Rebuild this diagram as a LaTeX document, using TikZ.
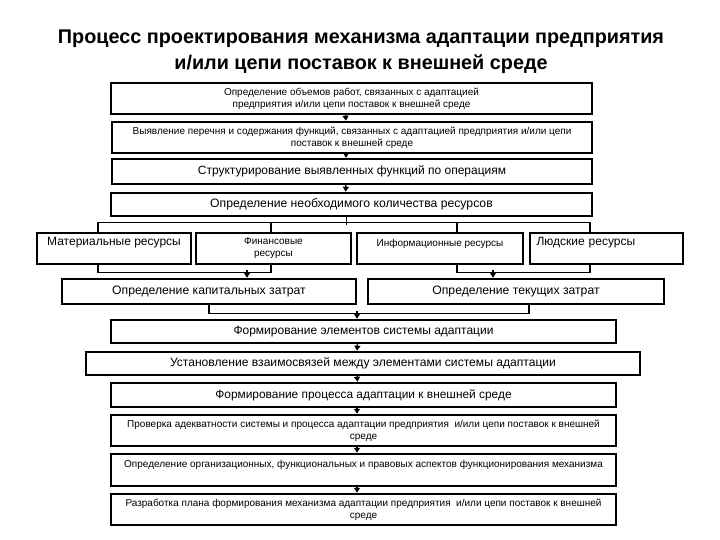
\documentclass[tikz,border=0pt]{standalone}
\usepackage{fontspec}
\setmainfont{Liberation Sans}
\usepackage{tikz}
\usetikzlibrary{arrows.meta, positioning, calc}

\tikzset{
  stage/.style={draw, rectangle, line width=2.5pt, inner sep=1pt, align=center},
  link/.style={line width=1.5pt},
  flow/.style={link, -{Triangle[length=5pt,width=6pt]}},
}
\newcommand{\fs}[1]{\fontsize{#1}{1.2\dimexpr #1pt\relax}\selectfont}

\begin{document}
\begin{tikzpicture}[x=1pt, y=-1pt]
      \useasboundingbox (0,0) rectangle (720,540);
      \node[font=\fontsize{19.8}{26}\selectfont\bfseries, align=center] (title) at (361,52) {
        Процесс проектирования механизма адаптации предприятия\\
        и/или цепи поставок к внешней среде
      };
      % upper chain
      \node[stage, minimum width=481, minimum height=31, font=\fs{10}] (b1) at (351.5,98.5) {
        Определение объемов работ, связанных с адаптацией\\
        предприятия и/или цепи поставок к внешней среде
      };
      \node[stage, minimum width=480, minimum height=31, font=\fs{10}] (b2) at (352,137.5) {
        Выявление перечня и содержания функций, связанных с адаптацией предприятия и/или цепи\\
        поставок к внешней среде
      };
      \node[stage, minimum width=480, minimum height=25, font=\fs{12}] (b3) at (352,171.5) {Структурирование выявленных функций по операциям};
      \node[stage, minimum width=481, minimum height=23, font=\fs{12.2}] (b4) at (351.5,204.5) {Определение необходимого количества ресурсов};
      % resources
      \node[stage, minimum width=154, minimum height=31, font=\fs{12}] (mat) at (114,248.5) {Материальные ресурсы\\~};
      \node[stage, minimum width=155, minimum height=31, font=\fs{10}] (fin) at (273.5,248.5) {Финансовые\\ресурсы};
      \node[stage, minimum width=166, minimum height=31, font=\fs{10}] (inf) at (440,248.5) {Информационные ресурсы\\~};
      \node[stage, minimum width=153, minimum height=31, font=\fs{12}, align=left, text width=140] (lud) at (606.5,248.5) {Людские ресурсы\\~};
      \node[stage, minimum width=294, minimum height=25, font=\fs{12.2}] (cap) at (209,291.5) {Определение капитальных затрат};
      \node[stage, minimum width=296, minimum height=25, font=\fs{12.2}] (cur) at (516,291.5) {Определение текущих затрат};
      % lower chain
      \node[stage, minimum width=505, minimum height=23, font=\fs{12}] (e1) at (363.5,331.5) {Формирование элементов системы адаптации};
      \node[stage, minimum width=554, minimum height=23, font=\fs{12.1}] (e2) at (363,363.5) {Установление взаимосвязей между элементами системы адаптации};
      \node[stage, minimum width=505, minimum height=24, font=\fs{11.9}] (e3) at (363.5,395) {Формирование процесса адаптации к внешней среде};
      \node[stage, minimum width=505, minimum height=31, font=\fs{10}] (e4) at (363.5,430.5) {
        Проверка адекватности системы и процесса адаптации предприятия \ и/или цепи поставок к внешней\\
        среде
      };
      \node[stage, minimum width=505, minimum height=32, font=\fs{10}] (e5) at (363.5,470) {
        Определение организационных, функциональных и правовых аспектов функционирования механизма\\~
      };
      \node[stage, minimum width=505, minimum height=31, font=\fs{10}] (e6) at (363.5,509.5) {
        Разработка плана формирования механизма адаптации предприятия \ и/или цепи поставок к внешней\\
        среде
      };
      % connectors
      \draw[flow] ([xshift=-6pt]b1.south) -- ([xshift=-6pt]b2.north);
      \draw[flow] ([xshift=-6pt]b2.south) -- ([xshift=-6pt]b3.north);
      \draw[flow] ([xshift=-6pt]b3.south) -- ([xshift=-6pt]b4.north);
      \draw[link] ([xshift=-5pt]b4.south) -- ++(0,8);
      \draw[link] ([xshift=-16pt]mat.north) -- ++(0,-9) -| ([xshift=-16.5pt]lud.north);
      \draw[link] ([xshift=-2.5pt]fin.north) -- ++(0,-9);
      \draw[link] ([xshift=17pt]inf.north) -- ++(0,-9);
      \draw[link] ([xshift=-16pt]mat.south) -- ++(0,7) -| ([xshift=-2.5pt]fin.south);
      \draw[link] ([xshift=17pt]inf.south) -- ++(0,7) -| ([xshift=-16.5pt]lud.south);
      \draw[flow] ([xshift=38pt,yshift=8pt]cap.north) -- ([xshift=38pt]cap.north);
      \draw[flow] ([xshift=-23pt,yshift=8pt]cur.north) -- ([xshift=-23pt]cur.north);
      \draw[link] (cap.south) -- ++(0,8) -| ([xshift=13pt]cur.south);
      \draw[flow] ([xshift=-6.5pt,yshift=8pt]e1.north) -- ([xshift=-6.5pt]e1.north);
      \draw[flow] ([xshift=-6pt]e1.south) -- ([xshift=-6pt]e2.north);
      \draw[flow] ([xshift=-6pt]e2.south) -- ([xshift=-6pt]e3.north);
      \draw[flow] ([xshift=-6.5pt]e3.south) -- ([xshift=-6.5pt]e4.north);
      \draw[flow] ([xshift=-6.5pt]e4.south) -- ([xshift=-6.5pt]e5.north);
      \draw[flow] ([xshift=-6.5pt]e5.south) -- ([xshift=-6.5pt]e6.north);
    \end{tikzpicture}
\end{document}
